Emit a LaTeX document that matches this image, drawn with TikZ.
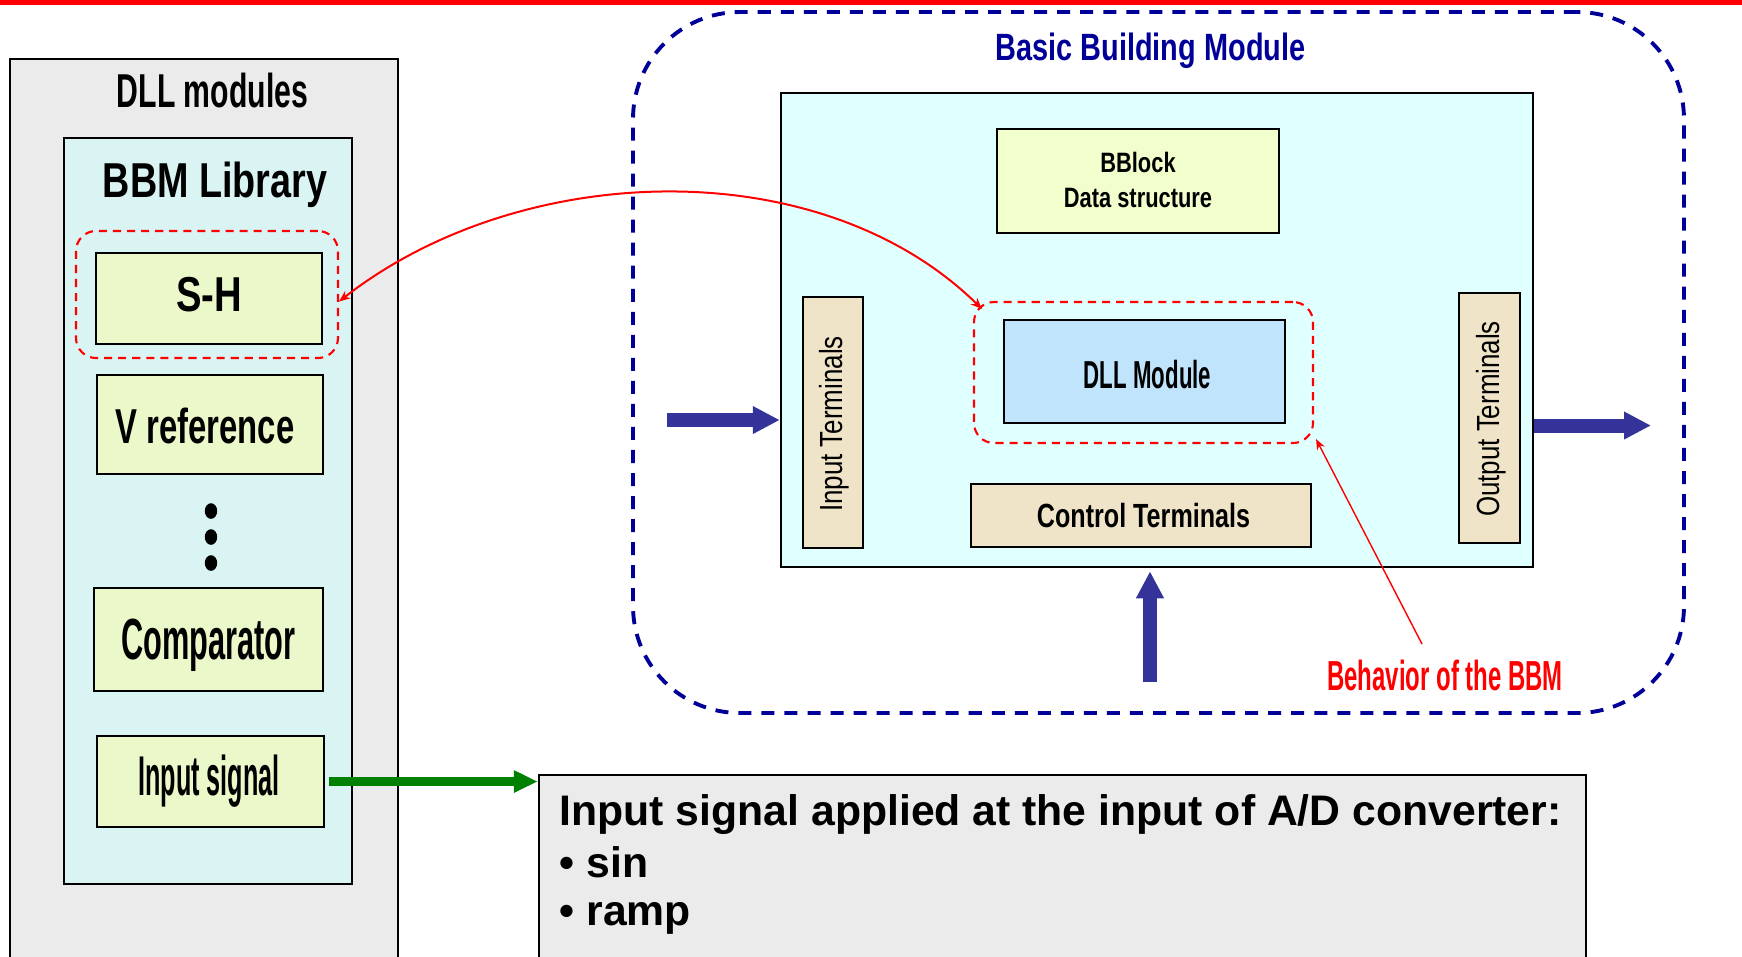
\documentclass[tikz,border=0pt]{standalone}
\usepackage{fontspec}
\setmainfont{Liberation Sans}
\usepackage{graphicx}
\usetikzlibrary{arrows.meta,fit}
\definecolor{grayf}{HTML}{EBEBEB}
\definecolor{libc}{HTML}{DAF4F4}
\definecolor{cyanf}{HTML}{E0FFFF}
\definecolor{yelf}{HTML}{EBF8C9}
\definecolor{bblf}{HTML}{F0FFCC}
\definecolor{dllf}{HTML}{C0E4FC}
\definecolor{termf}{HTML}{F0E4C8}
\definecolor{arrowblue}{HTML}{333399}
\definecolor{navyc}{HTML}{000099}
\definecolor{grn}{HTML}{008000}
\newcommand{\sqz}[3]{{\fontsize{#1}{#1}\selectfont\scalebox{#2}[1]{#3}}}
\begin{document}
\begin{tikzpicture}[x=0.01cm,y=-0.01cm,
  blk/.style={draw=black,line width=0.7pt,inner sep=0pt},
  rdash/.style={draw=red,line width=0.6pt,dash pattern=on 2.3pt off 1.7pt,rounded corners=0.2cm,inner sep=0pt},
  bdash/.style={draw=navyc,line width=1.1pt,dash pattern=on 3.7pt off 2.85pt,rounded corners=1.07cm,inner sep=0pt},
  tx/.style={anchor=base,inner sep=0pt},
  bottx/.style={anchor=base west,inner sep=0pt,font=\fontsize{12.15pt}{14pt}\selectfont\bfseries},
  fatarrow/.style={draw=arrowblue,line width=3.98pt,-{Triangle[length=7.68pt,width=7.4pt]}},
  redarrow/.style={draw=red,line width=0.57pt}]
\useasboundingbox (0,0) rectangle (1742,956);
% top red line
\fill[red] (0,0) rectangle (1742,5);

% ---------- left part ----------
\node[blk,fill=grayf,fit={(10,59) (398,1000)}] (dllmods) {};
\node[tx] (tdllmods) at (212.5,107) {\sqz{13.52pt}{0.635}{\bfseries DLL modules}};
\node[blk,fill=libc,fit={(64,138) (352,884)}] (lib) {};
\node[tx] (tlib) at (215,197) {\sqz{13.94pt}{0.77}{\bfseries BBM Library}};
\node[rdash,fit={(76,231) (338,358)}] (shdash) {};
\node[blk,fill=yelf,fit={(96,253) (322,344)}] (sh) {};
\node[tx] (tsh) at (209,311) {\sqz{13.94pt}{0.78}{\bfseries S-H}};
\node[blk,fill=yelf,fit={(97,375) (323,474)}] (vref) {};
\node[tx] (tvref) at (205,443) {\sqz{13.94pt}{0.67}{\bfseries V reference}};
\fill (211,511) ellipse[x radius=0.062cm,y radius=0.078cm];
\fill (211,537) ellipse[x radius=0.062cm,y radius=0.078cm];
\fill (211,563) ellipse[x radius=0.062cm,y radius=0.078cm];
\node[blk,fill=yelf,fit={(94,588) (323,691)}] (comp) {};
\node[tx] (tcomp) at (208.5,659) {\sqz{16.5pt}{0.53}{\bfseries Comparator}};
\node[blk,fill=yelf,fit={(97,736) (324,827)}] (isig) {};
\node[tx] (tisig) at (209,795) {\sqz{15.93pt}{0.45}{\bfseries Input signal}};

% ---------- right part ----------
\node[bdash,fit={(633,12) (1684,713)}] (bbmod) {};
\node[tx,text=navyc] (tbbmod) at (1150.5,60) {\sqz{10.81pt}{0.76}{\bfseries Basic Building Module}};
\node[blk,fill=cyanf,fit={(781,93) (1533,567)}] (bbm) {};
\node[blk,fill=bblf,fit={(997,129) (1279,233)}] (bblock) {};
\node[tx] (tbblock1) at (1138,172) {\sqz{7.97pt}{0.78}{\bfseries BBlock}};
\node[tx] (tbblock2) at (1138,207) {\sqz{7.97pt}{0.78}{\bfseries Data structure}};
\node[rdash,fit={(974,302) (1313,443)}] (dlldash) {};
\node[blk,fill=dllf,fit={(1004,320) (1285,423)}] (dll) {};
\node[tx] (tdll) at (1147.5,388) {\sqz{11.1pt}{0.57}{\bfseries DLL Module}};
\node[blk,fill=termf,fit={(803,297) (863,548)}] (inT) {};
\node[tx,rotate=90] (tinT) at (842,424) {\sqz{9.1pt}{0.81}{Input Terminals}};
\node[blk,fill=termf,fit={(1459,293) (1520,543)}] (outT) {};
\node[tx,rotate=90] (toutT) at (1499,419) {\sqz{9.1pt}{0.81}{Output Terminals}};
\node[blk,fill=termf,fit={(971,484) (1311,547)}] (ctlT) {};
\node[tx] (tctlT) at (1143.5,527) {\sqz{9.53pt}{0.75}{\bfseries Control Terminals}};
\node[tx,text=red] (beh) at (1445,690) {\sqz{11.95pt}{0.57}{\bfseries Behavior of the BBM}};

% fat blue arrows
\coordinate (inA) at (667,420);
\coordinate (outA) at (1651,425.5);
\coordinate (upA) at (1150,682);
\draw[fatarrow] (inA) -- (inA -| bbm.west);
\draw[fatarrow] (outA -| bbm.east) -- (outA);
\draw[fatarrow,shorten >=3pt*0.2845] (upA) -- (upA |- bbm.south);

% ---------- bottom box ----------
\node[blk,fill=grayf,fit={(539,775) (1586,1000)}] (bot) {};
\node[bottx] (bot1) at (559,825) {Input signal applied at the input of A/D converter:};
\node[bottx] (bot2) at (559,877) {• sin};
\node[bottx] (bot3) at (559,925) {• ramp};

% green arrow
\draw[draw=grn,line width=2.56pt,-{Triangle[length=6.83pt,width=5.98pt]}]
  ([shift={(4,0)}]isig.east) -- (isig.east -| bot.west);

% red connectors
\draw[redarrow,{Stealth[length=3.2pt,width=2.6pt]}-{Stealth[length=3.2pt,width=2.6pt]}]
  ([shift={(0,7)}]shdash.east) .. controls (520,160) and (820,150) .. ([shift={(9,8)}]dlldash.north west);
\draw[draw=red,line width=0.4pt,-{Stealth[length=3pt,width=2.4pt]}]
  ([shift={(-23,-46)}]beh.base) -- ([shift={(2,-5)}]dlldash.south east);
\end{tikzpicture}
\end{document}
